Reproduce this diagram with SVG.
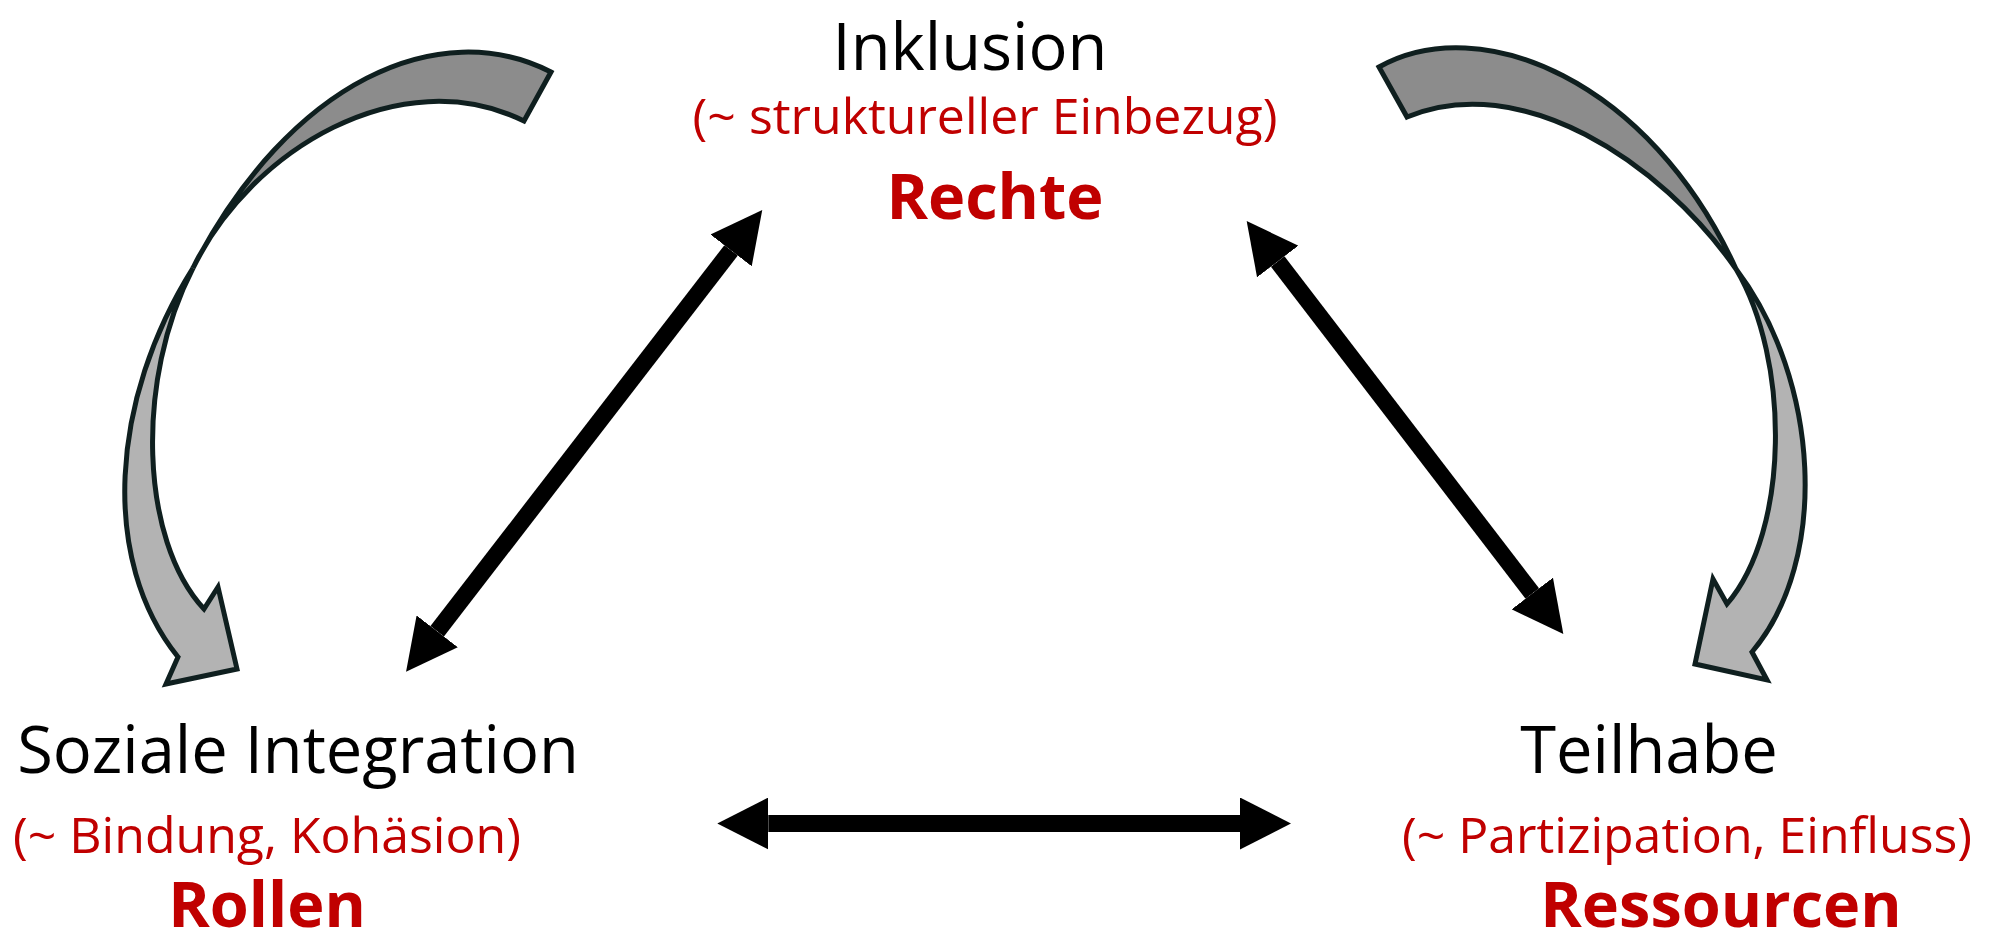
<svg xmlns="http://www.w3.org/2000/svg" width="1991" height="946" viewBox="0 0 1991 946">
  <style>
    .title { font-family: "Open Sans", "Noto Sans", "Liberation Sans", sans-serif; font-size: 65px; fill: #000000; text-anchor: middle; }
    .sub { font-family: "Open Sans", "Noto Sans", "Liberation Sans", sans-serif; font-size: 50px; fill: #C00000; text-anchor: middle; }
    .key { font-family: "Open Sans", "Noto Sans", "Liberation Sans", sans-serif; font-size: 63px; font-weight: bold; fill: #C00000; text-anchor: middle; }
    .shaft { stroke: #000000; stroke-width: 17; fill: none; marker-start: url(#head); marker-end: url(#head); }
    .band { fill: #8c8c8c; stroke: #0f1f1f; stroke-width: 5; stroke-linejoin: miter; }
    .front { fill: #b3b3b3; stroke: #0f1f1f; stroke-width: 5; stroke-linejoin: miter; }
  </style>
  <defs>
    <marker id="head" viewBox="0 0 51 52" refX="0" refY="26" markerWidth="51" markerHeight="52" markerUnits="userSpaceOnUse" orient="auto-start-reverse">
      <path d="M0,0 L51,26 L0,52 Z" fill="#000000"/>
    </marker>
  </defs>
  <rect x="0" y="0" width="1991" height="946" fill="#ffffff"/>

  <g id="connectors">
    <g id="curved-left">
      <path class="band" d="M551,72 C440,15 290,80 193,268 C250,150 400,60 524,121 Z"/>
      <path class="front" d="M193,268 C110,400 100,560 178,657 L166,684 L237,669 L218,587 L204,609 C140,540 135,380 193,268 Z"/>
    </g>
    <g id="curved-right">
      <path class="band" d="M1379,67 C1480,10 1650,80 1736,269 C1660,160 1520,70 1407,117 Z"/>
      <path class="front" d="M1736,269 C1820,380 1830,560 1752,652 L1767,680 L1695,664 L1713,579 L1727,604 C1790,530 1790,360 1736,269 Z"/>
    </g>
    <line id="edge-integration-inklusion" class="shaft" x1="437.2" y1="631.3" x2="731.1" y2="250.4"/>
    <line id="edge-inklusion-teilhabe" class="shaft" x1="1277.7" y1="261.5" x2="1532.3" y2="593.5"/>
    <line id="edge-integration-teilhabe" class="shaft" x1="768.3" y1="823.5" x2="1240" y2="823.5"/>
  </g>

  <g id="node-inklusion">
    <text class="title" x="970" y="70">Inklusion</text>
    <text class="sub" x="985" y="134">(~ struktureller Einbezug)</text>
    <text class="key" x="995" y="219">Rechte</text>
  </g>

  <g id="node-soziale-integration">
    <text class="title" x="298" y="773">Soziale Integration</text>
    <text class="sub" x="267" y="853">(~ Bindung, Kohäsion)</text>
    <text class="key" x="267" y="927">Rollen</text>
  </g>

  <g id="node-teilhabe">
    <text class="title" x="1649" y="773">Teilhabe</text>
    <text class="sub" x="1687" y="853">(~ Partizipation, Einfluss)</text>
    <text class="key" x="1721" y="927">Ressourcen</text>
  </g>
</svg>
